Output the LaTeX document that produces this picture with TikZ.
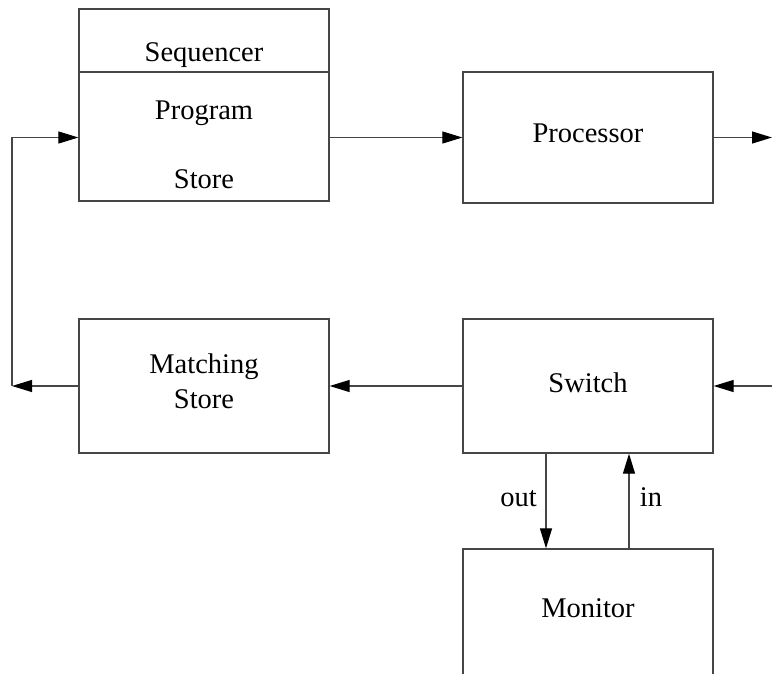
\documentclass[tikz,border=0pt]{standalone}
\usepackage{fontspec}
\setmainfont{Liberation Serif}
\usetikzlibrary{arrows.meta}
\definecolor{ln}{RGB}{70,70,70}
\begin{document}
\begin{tikzpicture}[x=1pt,y=-1pt,
  blk/.style={draw=ln,line width=1.3pt,rectangle,inner sep=0pt,minimum width=250pt},
  lbl/.style={inner sep=0pt,anchor=base,font=\rmfamily\fontsize{28.5}{34}\selectfont},
  arr/.style={draw=ln,line width=1.2pt,-{Triangle[length=20pt,width=12pt,color=black]}}]
\clip (0,0) rectangle (772,673);
\fill[white] (0,0) rectangle (772,673);
% boxes
\node[blk,minimum height=192pt] (prog) at (204,105) {};
\draw[ln,line width=1.3pt] (79,72) -- (329,72);
\node[blk,minimum height=131pt] (proc) at (588,137.5) {};
\node[blk,minimum height=134pt] (ms) at (204,386) {};
\node[blk,minimum height=134pt] (sw) at (588,386) {};
\node[blk,minimum height=151pt] (mon) at (588,624.5) {};
% texts
\node[lbl] (tseq) at (204,61) {Sequencer};
\node[lbl] (tprog) at (204,119) {Program};
\node[lbl] (tstore) at (204,188) {Store};
\node[lbl] (tproc) at (588,142) {Processor};
\node[lbl] (tmat) at (204,373) {Matching};
\node[lbl] (tms) at (204,408) {Store};
\node[lbl] (tsw) at (588,392) {Switch};
\node[lbl] (tmon) at (588,617) {Monitor};
\node[lbl] (tout) at (518.5,506) {out};
\node[lbl] (tin) at (651,506) {in};
% connectors
\coordinate (outR) at (772,137.5);
\coordinate (inR) at (772,386);
\coordinate (cL) at (12,386);
\draw[arr] (prog.east |- proc.west) -- (proc.west);
\draw[arr] (proc.east) -- (outR);
\draw[arr] (inR) -- (sw.east);
\draw[arr] (sw.west) -- (ms.east);
\draw[arr] (ms.west) -- (cL);
\draw[arr] (cL) |- (prog.west |- proc.west);
\draw[arr] ([xshift=-42pt]sw.south) -- ([xshift=-42pt]mon.north);
\draw[arr] ([xshift=41pt]mon.north) -- ([xshift=41pt]sw.south);
\end{tikzpicture}
\end{document}
